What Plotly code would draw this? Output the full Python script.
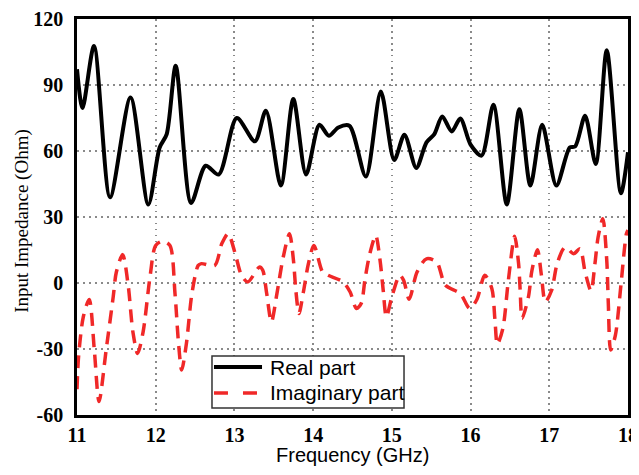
import plotly.graph_objects as go

real_freq = [11.0, 11.07, 11.216, 11.42, 11.68, 11.906, 12.05, 12.14, 12.254, 12.45, 12.635, 12.80,
             13.03, 13.26, 13.40, 13.59, 13.748, 13.91, 14.08, 14.20, 14.32, 14.46, 14.67, 14.86,
             15.03, 15.16, 15.31, 15.44, 15.54, 15.64, 15.76, 15.87, 16.0, 16.14, 16.29, 16.46,
             16.62, 16.76, 16.91, 17.09, 17.26, 17.33, 17.455, 17.59, 17.73, 17.91, 18.0]
real_vals = [97.2, 79.5, 107.7, 39.0, 84.3, 35.7, 61.6, 67.7, 98.7, 36.4, 53.3, 49.3,
             75.0, 64.4, 78.3, 44.3, 83.6, 49.3, 71.9, 66.9, 70.7, 71.5, 48.4, 87.0,
             55.9, 67.4, 52.3, 63.9, 67.7, 75.7, 68.9, 74.8, 62.9, 57.9, 81.0, 35.7,
             79.0, 44.3, 71.9, 44.3, 61.6, 62.1, 76.0, 54.1, 105.8, 40.8, 59.4]

imag_freq = [11.0, 11.02, 11.08, 11.155, 11.22, 11.28, 11.37, 11.46, 11.5, 11.58, 11.65, 11.71,
             11.77, 11.84, 11.93, 12.0, 12.09, 12.18, 12.245, 12.29, 12.33, 12.39, 12.46, 12.54,
             12.58, 12.75, 12.84, 12.92, 13.01, 13.09, 13.17, 13.32, 13.36, 13.41, 13.47, 13.54,
             13.62, 13.70, 13.75, 13.78, 13.82, 13.876, 13.94, 14.01, 14.12, 14.19, 14.38, 14.47,
             14.55, 14.61, 14.66, 14.72, 14.795, 14.85, 14.89, 14.93, 15.0, 15.10, 15.15, 15.22,
             15.32, 15.44, 15.57, 15.68, 15.87, 15.99, 16.08, 16.18, 16.27, 16.31, 16.34, 16.41,
             16.48, 16.56, 16.61, 16.63, 16.655, 16.735, 16.78, 16.85, 16.90, 16.95, 17.03, 17.10,
             17.20, 17.31, 17.39, 17.455, 17.53, 17.58, 17.62, 17.68, 17.73, 17.75, 17.78, 17.84,
             17.91, 17.98, 18.0]
imag_vals = [-48.3, -33.5, -15.4, -7.5, -30.5, -53.9, -30.5, -6.3, 5.0, 12.9, -1.0, -22.2,
             -32.0, -22.2, 3.5, 17.1, 19.0, 17.1, -4.8, -27.5, -39.6, -27.5, -4.8, 8.0,
             8.8, 8.0, 17.9, 22.4, 13.3, 3.5, 0.5, 7.3, 5.8, -4.8, -17.7, -4.8,
             11.8, 22.4, 10.3, -3.3, -13.9, -4.1, 8.8, 17.1, 5.0, 3.5, 0.5, -4.1,
             -11.6, -9.3, 2.0, 13.3, 21.6, 10.3, -3.3, -15.4, -6.3, 3.5, 1.2, -7.4,
             5.0, 11.0, 9.5, -1.0, -4.8, -11.6, -7.5, 3.5, -2.5, -16.9, -27.8, -20.7,
             1.2, 21.2, 8.8, -3.3, -16.1, -6.3, 5.8, 15.1, 3.5, -8.6, -3.3, 8.8,
             16.3, 13.3, 15.6, 5.0, -3.6, 8.8, 20.8, 29.2, 10.3, -9.3, -30.5, -23.7,
             -1.0, 22.4, 24.0]

series_names = ["Real part", "Imaginary part"]
x_ticks = [11, 12, 13, 14, 15, 16, 17, 18]
y_ticks = [-60, -30, 0, 30, 60, 90, 120]

RED = "#f02828"

fig = go.Figure()
fig.add_trace(go.Scatter(x=real_freq, y=real_vals, mode="lines", name=series_names[0],
                         showlegend=False,
                         line=dict(color="black", width=4, shape="spline", smoothing=0.8)))
fig.add_trace(go.Scatter(x=imag_freq, y=imag_vals, mode="lines", name=series_names[1],
                         showlegend=False,
                         line=dict(color=RED, width=3.5, shape="spline", smoothing=0.8,
                                   dash="13px,8px")))

tickfont = dict(family="Liberation Serif", size=20, color="black", weight=700)
axis_common = dict(showgrid=True, gridcolor="#8a8a8a", griddash="1.5px,4.5px", gridwidth=1.5,
                   showline=True, mirror=True, linecolor="black", linewidth=2.5,
                   tickcolor="rgba(0,0,0,0)", zeroline=False, automargin=False)

# legend box drawn in paper coordinates (boxed legend, lower-left-centre of plot)
lx0, lx1, ly0, ly1 = 0.245, 0.5935, 0.0177, 0.149
sx0, sx1, tx = 0.2486, 0.3358, 0.3466
row_y = [0.1212, 0.0556]
shapes = [
    dict(type="rect", xref="paper", yref="paper", x0=lx0, x1=lx1, y0=ly0, y1=ly1,
         fillcolor="white", line=dict(color="#333333", width=1.5), layer="above"),
    dict(type="line", xref="paper", yref="paper", x0=sx0, x1=sx1, y0=row_y[0], y1=row_y[0],
         line=dict(color="black", width=4), layer="above"),
    dict(type="line", xref="paper", yref="paper", x0=sx0, x1=sx1, y0=row_y[1], y1=row_y[1],
         line=dict(color=RED, width=3.5, dash="14px,15px"), layer="above"),
]
legend_font = dict(family="Liberation Sans", size=21, color="black")
annotations = [
    dict(text=series_names[i], xref="paper", yref="paper", x=tx, y=row_y[i],
         xanchor="left", yanchor="middle", showarrow=False, font=legend_font)
    for i in range(2)
]
annotations += [
    dict(text="Frequency (GHz)", xref="paper", yref="paper", x=0.5, y=-0.068,
         xanchor="center", yanchor="top", showarrow=False,
         font=dict(family="Liberation Sans", size=20, color="black")),
    dict(text="Input Impedance (Ohm)", xref="paper", yref="paper", x=-0.1, y=0.49,
         xanchor="center", yanchor="middle", textangle=-90, showarrow=False,
         font=dict(family="Liberation Serif", size=19, color="black")),
]

# page body has an 8px margin, so the figure is sized and offset to fit the 639x475 window
fig.update_layout(
    width=631, height=459,
    margin=dict(l=69, r=11, t=11, b=52),
    paper_bgcolor="white", plot_bgcolor="white",
    showlegend=False,
    xaxis=dict(range=[11, 18], tickvals=x_ticks, ticktext=[str(v) for v in x_ticks],
               tickfont=tickfont, ticks="", **axis_common),
    yaxis=dict(range=[-60, 120], tickvals=y_ticks, ticktext=[str(v) for v in y_ticks],
               tickfont=tickfont, ticks="outside", ticklen=7, **axis_common),
    shapes=shapes,
    annotations=annotations,
)
fig.write_html("out.html")
